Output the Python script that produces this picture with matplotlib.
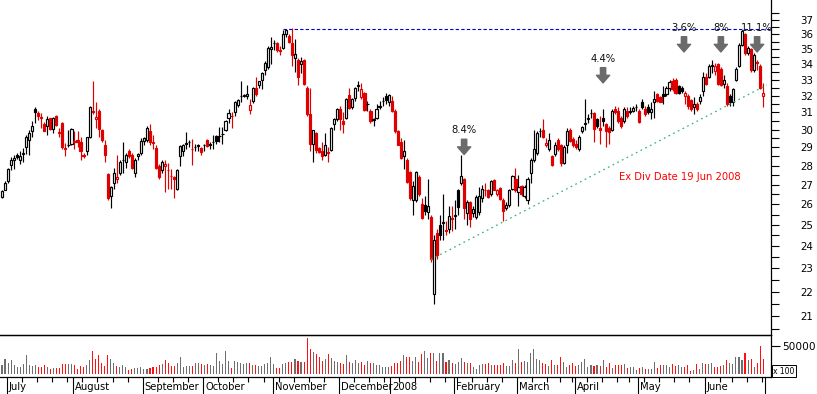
import matplotlib
matplotlib.use("Agg")
import matplotlib.pyplot as plt
from matplotlib.ticker import FixedLocator, FuncFormatter, NullFormatter
import numpy as np
import pandas as pd


# ============================================================
#  DATA  (daily OHLC, volume in x100 shares)
# ============================================================

holidays = ["2007-12-24", "2007-12-25", "2007-12-26", "2007-12-31",
            "2008-01-01", "2008-01-28", "2008-03-21", "2008-03-24",
            "2008-04-25", "2008-06-09"]

opens = [
    26.35, 26.75, 27.20, 28.05, 28.30, 28.60, 28.30, 28.65, 29.00, 29.40,
    29.90, 31.20, 30.95, 30.75, 30.35, 30.20, 30.65, 30.05, 30.80, 29.80,
    30.40, 28.95, 29.10, 29.20, 29.30, 29.40, 29.30, 28.60, 28.80, 29.55,
    31.10, 30.60, 31.10, 29.95, 29.10, 27.55, 26.40, 27.10, 27.30, 27.60,
    28.30, 28.20, 28.80, 28.60, 27.60, 28.50, 28.70, 29.35, 29.40, 29.90,
    29.30, 28.95, 28.00, 27.75, 28.00, 27.75, 27.45, 27.40, 26.80, 28.50,
    28.80, 29.25, 29.30, 28.90, 29.00, 29.10, 28.95, 29.10, 29.40, 29.10,
    29.30, 29.65, 29.65, 29.75, 30.00, 30.65, 30.80, 31.05, 31.45, 32.00,
    32.00, 32.00, 31.15, 31.70, 32.50, 32.70, 33.00, 33.60, 33.80, 35.00,
    35.40, 35.40, 34.90, 35.10, 36.05, 35.90, 35.40, 34.40, 34.30, 34.00,
    34.30, 32.50, 30.90, 29.20, 29.80, 28.95, 28.80, 28.60, 28.75, 28.85,
    30.35, 30.60, 31.20, 30.50, 30.70, 32.05, 31.35, 31.85, 32.60, 31.90,
    32.20, 31.50, 31.10, 30.60, 30.65, 31.30, 31.70, 32.00, 31.60, 31.70,
    31.10, 29.90, 29.30, 28.50, 28.30, 27.65, 26.20, 26.20, 27.40, 26.00,
    25.95, 25.60, 25.40, 21.90, 24.60, 25.00, 25.10, 24.75, 24.80, 25.35,
    25.45, 26.70, 27.10, 27.30, 25.55, 26.10, 25.55, 25.40, 25.60, 26.30,
    26.70, 26.75, 26.50, 27.25, 26.50, 26.85, 26.20, 25.80, 25.95, 26.80,
    27.30, 26.60, 26.95, 26.40, 26.20, 27.60, 28.30, 28.70, 29.90, 29.95,
    29.10, 28.90, 28.50, 28.65, 29.40, 29.10, 28.15, 29.10, 30.00, 29.45,
    29.20, 28.90, 29.90, 30.35, 30.60, 30.95, 30.95, 30.60, 30.10, 30.65,
    30.30, 30.10, 30.00, 31.20, 31.10, 30.70, 30.50, 31.10, 31.05, 31.10,
    31.30, 31.10, 31.60, 31.20, 31.30, 31.00, 31.60, 32.10, 31.90, 32.10,
    32.10, 32.50, 32.95, 33.00, 32.60, 32.50, 32.00, 32.00, 31.75, 31.35,
    31.50, 31.70, 32.30, 33.20, 33.20, 33.90, 33.55, 34.00, 33.70, 32.75,
    32.60, 32.00, 31.60, 33.00, 33.90, 35.25, 36.05, 34.75, 35.00, 33.60,
    34.15, 33.90, 32.00,
]

highs = [
    26.75, 27.20, 27.90, 28.45, 28.55, 28.70, 28.80, 28.95, 29.70, 29.95,
    30.50, 31.35, 31.10, 30.95, 30.45, 30.80, 30.70, 30.75, 30.85, 30.10,
    30.45, 29.25, 30.00, 30.10, 29.90, 29.90, 29.60, 28.70, 29.60, 31.40,
    32.90, 31.60, 31.20, 30.05, 29.40, 27.60, 26.95, 27.90, 28.60, 28.30,
    29.30, 28.70, 28.90, 28.70, 28.40, 28.70, 29.50, 29.60, 30.20, 30.30,
    29.70, 29.10, 28.10, 28.30, 28.30, 28.15, 27.80, 27.45, 27.80, 29.10,
    29.20, 29.85, 29.40, 29.45, 29.20, 29.20, 29.00, 29.20, 29.45, 29.30,
    29.70, 29.70, 30.15, 30.15, 30.55, 31.20, 31.00, 31.70, 31.80, 32.90,
    32.10, 32.70, 31.80, 32.55, 33.20, 32.95, 33.50, 34.20, 35.20, 35.80,
    35.60, 35.50, 35.20, 36.30, 36.40, 36.00, 36.45, 35.70, 34.40, 34.50,
    34.35, 32.60, 32.50, 30.00, 29.85, 29.00, 29.30, 29.80, 29.00, 30.15,
    30.70, 31.25, 31.40, 31.00, 31.85, 32.50, 31.85, 32.55, 32.90, 32.80,
    32.25, 31.70, 31.20, 30.70, 31.50, 31.70, 31.90, 32.20, 32.10, 32.00,
    31.20, 30.00, 29.50, 29.40, 28.40, 27.70, 27.20, 27.70, 27.50, 26.30,
    26.40, 27.30, 25.50, 24.50, 24.80, 25.50, 26.50, 25.20, 25.90, 25.90,
    26.20, 26.80, 28.55, 27.35, 26.20, 26.15, 25.90, 26.45, 26.90, 27.00,
    27.10, 26.80, 27.25, 27.30, 26.80, 26.90, 26.30, 26.10, 26.80, 27.50,
    27.90, 27.50, 27.00, 27.00, 27.40, 28.40, 30.00, 29.90, 30.10, 30.60,
    29.50, 29.80, 28.60, 29.30, 29.50, 29.20, 29.10, 30.10, 30.10, 29.60,
    29.40, 29.70, 30.20, 31.80, 30.90, 31.20, 31.00, 30.70, 30.80, 31.20,
    30.40, 30.20, 31.20, 31.40, 31.30, 30.80, 31.30, 31.30, 31.30, 31.40,
    31.50, 31.20, 31.80, 31.40, 31.50, 31.60, 32.30, 32.20, 32.00, 32.60,
    32.60, 33.00, 33.10, 33.10, 32.70, 32.60, 32.30, 32.10, 31.80, 31.90,
    31.60, 32.10, 33.50, 33.40, 34.00, 34.30, 34.10, 34.10, 33.80, 33.30,
    32.80, 32.10, 32.50, 33.80, 35.40, 36.30, 36.10, 35.20, 35.10, 34.70,
    34.30, 34.00, 32.80,
]

lows = [
    26.30, 26.70, 27.10, 27.75, 27.80, 28.35, 28.10, 28.20, 28.65, 28.60,
    29.55, 30.40, 30.55, 30.10, 29.90, 29.70, 29.95, 29.80, 30.20, 29.60,
    28.90, 28.50, 29.00, 29.10, 28.90, 29.00, 28.30, 28.40, 28.60, 29.50,
    30.90, 30.10, 29.60, 29.30, 28.20, 26.20, 25.80, 26.80, 27.10, 27.50,
    27.60, 27.90, 28.40, 27.80, 27.40, 28.30, 28.60, 29.10, 29.30, 29.10,
    28.90, 27.80, 27.30, 27.60, 26.60, 26.80, 26.80, 26.30, 26.70, 28.00,
    28.50, 28.90, 29.00, 28.05, 28.80, 28.80, 28.60, 28.80, 29.00, 28.90,
    28.90, 29.20, 29.30, 29.20, 29.90, 30.40, 30.10, 30.80, 31.30, 31.60,
    31.90, 31.80, 30.90, 31.55, 32.00, 32.50, 32.40, 33.30, 33.70, 34.00,
    34.90, 34.80, 34.60, 35.00, 35.80, 35.40, 33.90, 33.50, 32.70, 33.40,
    32.70, 30.80, 28.80, 28.20, 28.70, 28.70, 28.30, 28.50, 28.20, 28.80,
    30.00, 30.50, 30.00, 29.80, 30.60, 31.20, 31.20, 31.70, 32.30, 31.80,
    31.10, 31.10, 30.40, 30.20, 30.60, 31.20, 31.40, 31.50, 31.40, 31.00,
    29.80, 29.10, 28.35, 27.80, 27.10, 26.20, 25.50, 26.10, 26.40, 25.30,
    25.50, 25.30, 23.30, 21.50, 23.40, 24.30, 24.30, 24.50, 24.60, 24.70,
    24.80, 25.50, 27.00, 25.30, 25.00, 24.90, 25.40, 25.30, 25.50, 26.10,
    26.40, 26.30, 26.40, 26.70, 26.40, 26.20, 25.20, 25.70, 25.85, 26.70,
    26.60, 25.90, 26.40, 26.30, 26.00, 27.10, 28.20, 28.60, 29.60, 29.50,
    29.00, 28.80, 28.00, 28.50, 28.80, 28.00, 28.10, 28.70, 29.30, 29.00,
    28.90, 28.80, 29.80, 30.00, 30.40, 30.70, 29.30, 30.10, 29.20, 30.20,
    29.00, 29.20, 29.90, 30.90, 30.40, 30.10, 30.40, 30.70, 30.90, 31.00,
    31.10, 30.40, 31.20, 30.80, 30.90, 30.60, 30.65, 31.60, 31.60, 31.50,
    32.00, 32.30, 32.30, 32.10, 32.10, 32.20, 31.50, 31.20, 31.10, 30.90,
    31.10, 31.50, 32.00, 32.70, 33.10, 33.40, 33.30, 32.70, 32.60, 32.50,
    31.40, 31.40, 31.40, 32.90, 33.80, 35.20, 34.60, 34.60, 33.50, 33.50,
    33.60, 32.40, 31.30,
]

closes = [
    26.65, 27.10, 27.80, 28.30, 28.40, 28.45, 28.50, 28.70, 29.60, 29.80,
    30.20, 31.05, 30.80, 30.70, 29.90, 30.60, 30.05, 30.70, 30.25, 29.85,
    29.00, 28.90, 29.15, 30.05, 29.35, 29.30, 28.80, 28.50, 29.55, 31.30,
    31.00, 30.75, 30.05, 29.40, 28.60, 26.30, 26.90, 27.60, 27.40, 28.20,
    28.30, 28.60, 28.50, 27.90, 28.30, 28.65, 29.35, 29.50, 30.10, 29.30,
    29.25, 27.90, 27.40, 28.20, 28.10, 27.75, 27.45, 27.30, 27.75, 29.05,
    29.15, 29.20, 29.30, 28.90, 29.00, 29.05, 28.75, 29.10, 29.05, 29.20,
    29.30, 29.35, 29.65, 29.75, 30.50, 30.95, 30.80, 31.60, 31.75, 32.00,
    32.05, 32.10, 31.45, 32.50, 32.10, 32.90, 33.40, 34.10, 35.10, 35.15,
    35.40, 34.95, 34.85, 36.00, 36.30, 35.50, 34.60, 34.65, 33.20, 34.20,
    32.75, 30.90, 29.20, 30.00, 28.85, 28.75, 28.50, 29.15, 28.70, 30.10,
    30.60, 31.20, 30.60, 30.35, 31.80, 31.25, 31.80, 32.50, 32.65, 32.40,
    31.15, 31.50, 30.50, 30.55, 31.20, 31.40, 31.70, 31.75, 32.05, 31.10,
    29.90, 29.15, 28.40, 28.80, 27.15, 26.30, 26.95, 27.65, 26.50, 25.35,
    25.65, 25.90, 23.40, 24.30, 23.60, 24.50, 25.15, 24.70, 25.45, 25.30,
    25.50, 25.85, 27.45, 25.80, 26.10, 25.30, 25.75, 26.35, 26.40, 26.80,
    26.70, 26.35, 27.20, 26.75, 26.70, 26.25, 25.65, 25.95, 26.70, 27.45,
    26.75, 26.90, 26.50, 26.90, 27.30, 28.30, 28.90, 29.80, 29.90, 29.55,
    29.25, 29.40, 28.05, 29.10, 28.90, 28.15, 29.00, 29.90, 29.35, 29.10,
    29.00, 29.60, 30.15, 30.40, 30.70, 30.95, 30.05, 30.20, 30.00, 30.50,
    29.90, 29.85, 31.10, 31.00, 30.50, 30.20, 31.20, 30.80, 31.10, 31.25,
    31.30, 30.45, 31.30, 30.90, 31.05, 31.20, 31.80, 31.70, 31.65, 32.00,
    32.50, 32.85, 32.40, 32.20, 32.20, 32.30, 32.15, 31.40, 31.20, 31.50,
    31.20, 31.95, 33.20, 32.75, 33.90, 33.95, 33.90, 32.75, 32.70, 33.00,
    31.50, 31.60, 32.45, 33.70, 35.30, 36.20, 34.70, 35.05, 33.60, 34.60,
    34.10, 32.50, 32.15,
]

volumes = [
    15900, 25900, 20000, 24700, 15300, 11800, 13000, 17700, 33600, 15300,
    14100, 15300, 12400, 13000, 16500, 11800, 9400, 10000, 11200, 10600,
    17700, 17700, 17700, 17700, 16500, 8800, 14100, 13000, 16500, 24700,
    40100, 26500, 34200, 18800, 14100, 33600, 25900, 18800, 14100, 13000,
    15300, 13000, 7100, 9400, 10600, 10600, 11800, 8800, 9400, 11200,
    11800, 11800, 16500, 17100, 24700, 20000, 14700, 14700, 18800, 30600,
    13000, 14100, 14100, 14700, 18800, 20000, 17700, 15900, 17700, 15300,
    14100, 37100, 23000, 17100, 40600, 23600, 11200, 22400, 21800, 20000,
    17700, 18800, 20000, 15900, 15300, 14700, 14100, 17100, 20000, 29500,
    17700, 10600, 11200, 17700, 20000, 21200, 20600, 25900, 23600, 21200,
    21800, 63600, 44200, 38900, 34800, 30600, 22400, 25900, 35300, 28900,
    23600, 21200, 20000, 17100, 33000, 21200, 18800, 24700, 20000, 21200,
    15300, 23000, 18800, 20000, 16500, 15300, 12400, 11800, 11800, 14700,
    19400, 19400, 23000, 33600, 29500, 29500, 23000, 29500, 21200, 35300,
    40100, 28300, 36500, 36500, 22400, 36500, 37700, 21200, 24700, 20000,
    17700, 21800, 27700, 21800, 18800, 20000, 13000, 9400, 16500, 17100,
    17100, 18800, 15900, 15900, 15900, 15900, 20000, 14100, 14100, 24700,
    18800, 44200, 21800, 23000, 21200, 37700, 44200, 25900, 24700, 18800,
    17700, 14100, 24700, 16500, 15900, 30600, 21200, 13000, 16500, 20000,
    14100, 16500, 21200, 25900, 13000, 15300, 14100, 15300, 14100, 24700,
    13000, 20000, 10000, 15900, 16500, 16500, 17700, 10600, 13000, 13000,
    7100, 11200, 13000, 8800, 9400, 8800, 21200, 11200, 16500, 16500,
    16500, 13000, 17700, 14100, 15300, 13000, 13000, 15300, 5900, 7100,
    17700, 8800, 20000, 17700, 17700, 20000, 13000, 13000, 14100, 16500,
    24700, 18800, 17700, 30600, 29500, 24700, 36500, 24700, 25900, 13000,
    18800, 49500, 27100,
]

month_labels = ["July", "August", "September", "October", "November", "December",
                "2008", "February", "March", "April", "May", "June"]
price_ticks = list(range(21, 38))

# resistance line at the November high, support trend line from the January low
resistance_level = 36.4
resistance_start = 93
trend_start = (142, 23.4)
trend_end = (253.2, 32.67)

# percentage markers (session index, arrow tip price)
note_labels = ["8.4%", "4.4%", "3.6%", "8%", "11.1%"]
note_index = [153, 199, 225.8, 238, 250]
note_price = [28.6, 32.8, 34.8, 34.8, 34.8]

exdiv_text = "Ex Div Date 19 Jun 2008"
exdiv_pos = (224.3, 27.4)


# ============================================================
#  PREP
# ============================================================

dates = pd.bdate_range("2007-06-28", "2008-06-30")
dates = dates[~dates.isin(pd.to_datetime(holidays))]
n = len(dates)
x = np.arange(n)

o = np.array(opens)
h = np.array(highs)
l = np.array(lows)
c = np.array(closes)
v = np.array(volumes)

prev = np.concatenate([[o[0]], c[:-1]])
up_day = c >= prev
hollow = c >= o

RED = "#e00000"
candle_col = np.where(up_day, "black", RED)
vol_col = np.where(up_day, "#6e6e6e", "#ff1010")

month_first = [i for i in range(1, n) if dates[i].month != dates[i - 1].month]
month_ticks = [i - 0.4 for i in month_first] + [n - 0.4]
weeks = dates.to_period("W")
week_first = [i - 0.4 for i in range(1, n) if weeks[i] != weeks[i - 1]]


# ============================================================
#  FIGURE
# ============================================================

W, H = 817, 394
fig = plt.figure(figsize=(W / 100, H / 100), dpi=100)
ax = fig.add_axes([0, (H - 335) / H, 771 / W, 335 / H])
axv = fig.add_axes([0, (H - 377) / H, 771 / W, 42 / H], sharex=ax)
axv.patch.set_alpha(0)

# --- candles ---
ax.vlines(x, l, h, colors=candle_col, linewidth=0.85, zorder=2)
body_lo = np.minimum(o, c)
body_hi = np.maximum(o, c)
face = np.where(hollow, "white", candle_col)
ax.bar(x, body_hi - body_lo, bottom=body_lo, width=0.7,
       color=face, edgecolor=candle_col, linewidth=0.85, zorder=3)

ax.set_yscale("log")
ax.set_ylim(20.25, 38.44)
ax.set_xlim(-0.66, 254.6)

# resistance + trend line
ax.plot([resistance_start, 254.6], [resistance_level, resistance_level],
        color="#0000c8", linewidth=0.8, dashes=(3, 2), zorder=1)
ax.plot([trend_start[0], trend_end[0]], [trend_start[1], trend_end[1]],
        color="#3cb371", linewidth=0.9, dashes=(1.4, 2.8), zorder=4)

# arrows with percentages
for lbl, xi, pi in zip(note_labels, note_index, note_price):
    ax.annotate("", xy=(xi, pi), xytext=(0, 11), textcoords="offset points",
                arrowprops=dict(arrowstyle="simple,head_length=0.55,head_width=0.95,tail_width=0.38",
                                color="#6b6b6b", shrinkA=0, shrinkB=0, mutation_scale=10))
    ax.annotate(lbl, xy=(xi, pi), xytext=(0, 17.5), textcoords="offset points",
                ha="center", va="center", fontsize=7.2, color="#111111")

ax.text(exdiv_pos[0], exdiv_pos[1], exdiv_text, ha="center", va="center",
        fontsize=7.2, color="#ff0000")

# price axis on the right
ax.yaxis.tick_right()
ax.yaxis.set_major_locator(FixedLocator(price_ticks))
ax.yaxis.set_major_formatter(FuncFormatter(lambda val, _: f"{val:.0f}"))
ax.yaxis.set_minor_locator(FixedLocator([t + 0.5 for t in range(20, 38)]))
ax.yaxis.set_minor_formatter(NullFormatter())
ax.tick_params(axis="y", which="both", direction="out", length=5.8, width=0.8,
               labelsize=7.4, pad=15, left=False, right=True)
ax.tick_params(axis="x", which="both", bottom=False, labelbottom=False)
for side in ["left", "top"]:
    ax.spines[side].set_visible(False)
for side in ["right", "bottom"]:
    ax.spines[side].set_linewidth(0.9)
    ax.spines[side].set_color("black")

# --- volume ---
axv.bar(x, v, width=0.35, color=vol_col, linewidth=0)
axv.set_ylim(-5300, 68900)
axv.yaxis.tick_right()
axv.set_yticks([50000])
axv.set_yticklabels(["50000"])
axv.tick_params(axis="y", direction="out", length=6.5, width=0.8,
                labelsize=7.6, pad=1.5, left=False, right=True)
axv.set_xticks(month_ticks)
axv.set_xticks(week_first, minor=True)
axv.tick_params(axis="x", which="major", direction="out", length=12.2, width=0.8,
                labelbottom=False)
axv.tick_params(axis="x", which="minor", direction="out", length=3.6, width=0.8)
axv.spines["left"].set_visible(False)
for side in ["right", "bottom", "top"]:
    axv.spines[side].set_linewidth(0.9)
    axv.spines[side].set_color("black")

for pos, lbl in zip(month_first, month_labels):
    axv.text(pos + 0.3, -0.25, lbl, transform=axv.get_xaxis_transform(),
             ha="left", va="center", fontsize=7.2)

fig.text(784 / W, 1 - 371 / H, "x 100", fontsize=5.5, ha="center", va="center",
         bbox=dict(boxstyle="square,pad=0.15", fc="white", ec="black", lw=0.7))

fig.savefig("out.png", dpi=100)
